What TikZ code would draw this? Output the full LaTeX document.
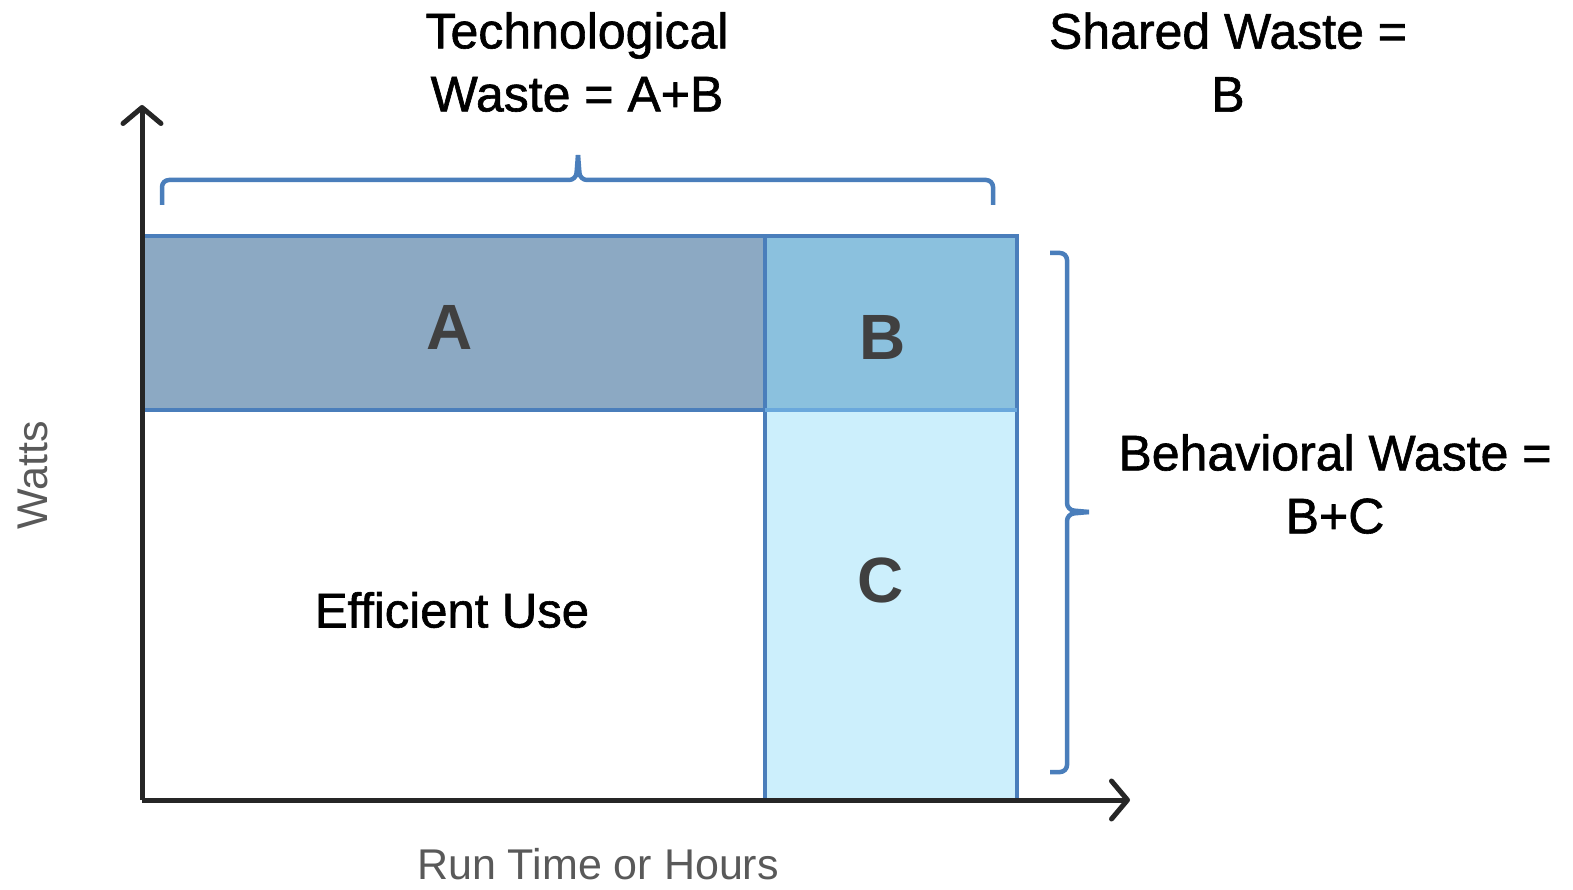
\documentclass[tikz,border=0pt]{standalone}
\usepackage{fontspec}
\setmainfont{Liberation Sans}
\newfontfamily\medfont[FakeBold=1.2]{Liberation Sans}
\usetikzlibrary{arrows.meta}
\definecolor{edgeblue}{HTML}{4A7EBB}
\definecolor{afill}{HTML}{8CA9C3}
\definecolor{bfill}{HTML}{8BC1DE}
\definecolor{cfill}{HTML}{CCEFFC}
\definecolor{midline}{HTML}{6AA8DC}
\definecolor{axiscol}{HTML}{262626}
\definecolor{lettercol}{HTML}{404040}
\definecolor{axislabel}{HTML}{595959}
\tikzset{
  region/.style={draw=edgeblue, line width=4.5pt, inner sep=0pt, outer sep=0pt, anchor=north west},
  letter/.style={text=lettercol, font=\fontsize{64}{64}\selectfont\bfseries},
  caption/.style={align=center, font=\medfont\fontsize{50}{63}\selectfont, text=black},
  axislab/.style={text=axislabel, font=\fontsize{43}{50}\selectfont},
  axis/.style={draw=axiscol, line width=5pt, -{Straight Barb[length=16pt, width=38pt, line width=5pt, round]}},
  bracestyle/.style={draw=edgeblue, line width=4.5pt, rounded corners=7pt}
}
\begin{document}
\begin{tikzpicture}[x=1pt, y=-1pt]
\useasboundingbox (0,0) rectangle (1573,890);
% regions
\node[region, fill=cfill, minimum width=252pt, minimum height=390pt] (C) at (765,410) {};
\node[region, fill=afill, minimum width=623pt, minimum height=174pt] (A) at (142,236) {};
\node[region, fill=bfill, minimum width=252pt, minimum height=174pt] (B) at (765,236) {};
\draw[midline, line width=4pt] (B.south west) -- (B.south east);
% letters
\node[letter] (la) at (450,327) {A};
\node[letter] (lb) at (883,337) {B};
\node[letter] (lc) at (881,580) {C};
\node[font=\medfont\fontsize{49}{49}\selectfont] (eff) at (452,610) {Efficient Use};
% axes
\coordinate (origin) at (142,800);
\coordinate (ytip) at (142,105);
\coordinate (xtip) at (1130,800);
\draw[axis] (origin) -- (ytip);
\draw[axis] (origin) -- (xtip);
\node[axislab, rotate=90] (watts) at (33,475) {Watts};
\node[axislab] (runtime) at (598,864) {Run Time or Hours};
% top brace
\coordinate (tb1) at (162,205);
\coordinate (tb2) at (993,205);
\coordinate (ttip) at (578,155);
\draw[bracestyle] (tb1) -- (162,180) -- (576,180) -- (ttip);
\draw[bracestyle] (ttip) -- (580,180) -- (993,180) -- (tb2);
% right brace
\coordinate (rb1) at (1050,253);
\coordinate (rb2) at (1050,772);
\coordinate (rtip) at (1089,512);
\draw[bracestyle] (rb1) -- (1067,253) -- (1067,510) -- (rtip);
\draw[bracestyle] (rtip) -- (1067,514) -- (1067,772) -- (rb2);
% captions
\node[caption] (tech) at (577,62) {Technological\\Waste = A+B};
\node[caption] (shared) at (1228,62) {Shared Waste =\\B};
\node[caption] (behav) at (1335,484) {Behavioral Waste =\\B+C};
\end{tikzpicture}
\end{document}
